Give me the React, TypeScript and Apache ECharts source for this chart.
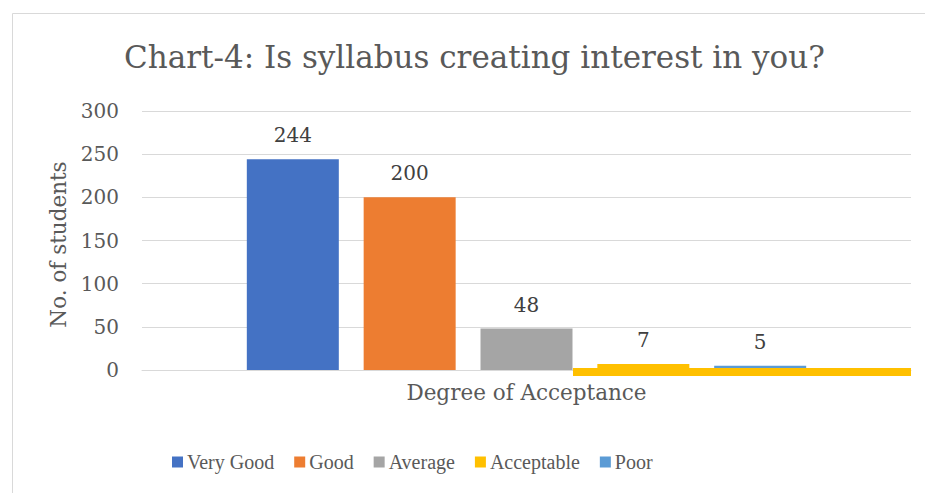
import React, { useEffect, useRef } from "react";
import * as echarts from "echarts";

const categories = ["Degree of Acceptance"];
const seriesNames = ["Very Good", "Good", "Average", "Acceptable", "Poor"];
const seriesValues = [244, 200, 48, 7, 5];
const seriesColors = ["#4472C4", "#ED7D31", "#A5A5A5", "#FFC000", "#5B9BD5"];
const yTicks = [0, 50, 100, 150, 200, 250, 300];

const FONT = "'DejaVu Serif', serif";
const LEGEND_FONT = "'Liberation Serif', serif";
const TXT = "#595959";

export default function App() {
  const ref = useRef<HTMLDivElement>(null);
  useEffect(() => {
    const chart = echarts.init(ref.current!, undefined, { renderer: "svg" });
    const series: any[] = seriesNames.map((name, i) => ({
      name,
      type: "bar",
      data: [seriesValues[i]],
      barWidth: 92,
      barGap: "27%",
      itemStyle: { color: seriesColors[i] },
      label: {
        show: true,
        position: "top",
        distance: 14,
        color: "#404040",
        fontFamily: FONT,
        fontSize: 20,
      },
    }));
    series[3].markLine = {
      silent: true,
      symbol: "none",
      label: { show: false },
      lineStyle: { color: seriesColors[3], width: 8, type: "solid" },
      data: [[{ x: 573, yAxis: 0, y: 372 }, { x: 911, yAxis: 0, y: 372 }]],
    };
    chart.setOption({
      animation: false,
      textStyle: { fontFamily: FONT },
      title: {
        text: "Chart-4: Is syllabus creating interest in you?",
        left: 119,
        top: 36,
        textStyle: { fontFamily: FONT, fontSize: 31, fontWeight: "normal", color: TXT },
      },
      graphic: [
        {
          type: "rect",
          shape: { x: 12.5, y: 13.5, width: 1000, height: 1000 },
          style: { fill: "none", stroke: "#d9d9d9", lineWidth: 1 },
          z: -10,
        },
      ],
      legend: {
        left: 167,
        top: 447,
        itemWidth: 11,
        itemHeight: 11,
        itemGap: 20,
        icon: "rect",
        textStyle: { fontFamily: LEGEND_FONT, fontSize: 20, color: TXT, padding: [0, 0, 0, -1] },
        data: seriesNames,
      },
      grid: { left: 142, right: 14, top: 111, bottom: 123 },
      xAxis: {
        type: "category",
        data: categories,
        axisTick: { show: false },
        axisLine: { lineStyle: { color: "#d9d9d9", width: 1 } },
        axisLabel: { fontFamily: FONT, fontSize: 21.5, color: TXT, margin: 11 },
      },
      yAxis: {
        type: "value",
        min: yTicks[0],
        max: yTicks[yTicks.length - 1],
        interval: 50,
        name: "No. of students",
        nameLocation: "middle",
        nameGap: 73,
        nameTextStyle: { fontFamily: FONT, fontSize: 21.5, color: TXT, padding: [0, 0, 0, -8] },
        axisLabel: { fontFamily: FONT, fontSize: 20, color: TXT, margin: 23 },
        splitLine: { lineStyle: { color: "#d9d9d9", width: 1 } },
        axisLine: { show: false },
        axisTick: { show: false },
      },
      series,
    });
    return () => chart.dispose();
  }, []);
  return (
    <div
      ref={ref}
      style={{ position: "fixed", left: 0, top: 0, width: 925, height: 493, background: "#fff" }}
    />
  );
}
